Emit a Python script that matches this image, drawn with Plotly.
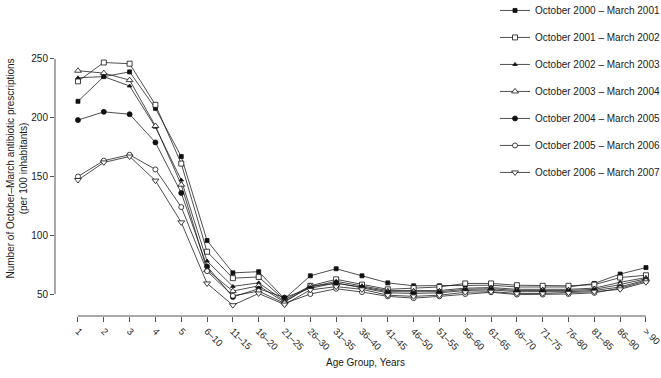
import plotly.graph_objects as go

categories = ["1", "2", "3", "4", "5", "6–10", "11–15", "16–20", "21–25", "26–30",
              "31–35", "36–40", "41–45", "46–50", "51–55", "56–60", "61–65", "66–70",
              "71–75", "76–80", "81–85", "86–90", "> 90"]

series_names = ["October 2000 – March 2001", "October 2001 – March 2002",
                "October 2002 – March 2003", "October 2003 – March 2004",
                "October 2004 – March 2005", "October 2005 – March 2006",
                "October 2006 – March 2007"]

s2000 = [214, 235, 239, 208, 167, 95.5, 68, 69, 46, 65.5, 71.5, 65.5, 59.5, 57, 57, 57.5, 57.5, 56, 56, 56, 59, 67, 72.5]
s2001 = [231, 247, 246, 211, 161, 86, 63.5, 64.5, 45, 57, 62.5, 58, 54, 55, 56, 59, 59, 57.5, 57, 57, 58, 64, 66]
s2002 = [234, 235, 227, 192, 147, 78, 56.5, 59.5, 44, 55.8, 60.8, 57, 53, 53, 53, 55, 55.5, 54, 54, 54, 55, 60, 64]
s2003 = [240, 238, 232, 193, 143, 70.5, 52.5, 57, 43, 56.8, 59, 56, 52, 52, 52, 54, 54.5, 53, 53, 53, 54, 58, 63]
s2004 = [198, 205, 203, 179, 136, 73.5, 47.5, 54.5, 47, 54.9, 59.5, 55.5, 51, 50.5, 51, 53, 53.5, 52, 52, 52, 53, 56, 62]
s2005 = [150, 163.5, 168.5, 156, 124, 69.5, 48.5, 52.5, 42, 50, 54.5, 51.7, 48, 46.5, 48, 50, 51.5, 49.5, 49.5, 50, 51, 55, 61]
s2006 = [147, 162, 167, 146.5, 111, 59, 40.5, 50.5, 41, 53.5, 56.3, 54, 49, 48, 49, 51.5, 52, 50.5, 50.5, 51, 52, 54, 60]

series_values = [s2000, s2001, s2002, s2003, s2004, s2005, s2006]
symbols = ["square", "square", "triangle-up", "triangle-up", "circle", "circle", "triangle-down"]
fills = ["#111", "white", "#111", "white", "#111", "white", "white"]
sizes = [4, 5, 4, 6, 5, 5, 6]

y_ticks = [50, 100, 150, 200, 250]

FONT = "Liberation Sans, Arial, Helvetica, sans-serif"
AX = "#555"
TXT = "#1a1a1a"

fig = go.Figure()
for name, vals, sym, fc, sz in zip(series_names, series_values, symbols, fills, sizes):
    fig.add_trace(go.Scatter(
        x=categories, y=vals, name=name, mode="lines+markers",
        legendgroup=name,
        line=dict(color="#222", width=0.8),
        marker=dict(symbol=sym, size=sz, color=fc, line=dict(color="#111", width=0.8)),
    ))

# detached R-style axis lines spanning the tick range
fig.add_shape(type="line", xref="x", yref="paper", x0=0, x1=len(categories) - 1, y0=0, y1=0,
              line=dict(color=AX, width=1))
fig.add_shape(type="line", xref="paper", yref="y", x0=0, x1=0, y0=y_ticks[0], y1=y_ticks[-1],
              line=dict(color=AX, width=1))

fig.add_annotation(text="Number of October–March antibiotic prescriptions<br>(per 100 inhabitants)",
                   xref="paper", yref="paper", x=-0.063, y=0.545, xanchor="center", yanchor="middle",
                   showarrow=False, textangle=-90, font=dict(size=10, color=TXT, family=FONT))
fig.add_annotation(text="Age Group, Years", xref="paper", yref="paper", x=0.517, y=-0.173,
                   xanchor="center", yanchor="middle", showarrow=False,
                   font=dict(size=10, color=TXT, family=FONT))

fig.update_layout(
    width=661, height=378,
    margin=dict(l=55, r=6, t=45, b=62, autoexpand=False),
    paper_bgcolor="white", plot_bgcolor="white",
    font=dict(family=FONT, size=10, color=TXT),
    showlegend=True,
    legend=dict(x=1.0167, y=1.181, xanchor="right", yanchor="top",
                font=dict(size=10, family=FONT, color=TXT),
                tracegroupgap=8, bgcolor="rgba(0,0,0,0)", itemwidth=30),
    xaxis=dict(type="category", categoryorder="array", categoryarray=categories,
               range=[-0.89, 22.35], showgrid=False, zeroline=False, showline=False,
               ticks="outside", ticklen=5, tickcolor=AX, tickangle=45,
               tickfont=dict(size=9.5, family=FONT, color=TXT)),
    yaxis=dict(range=[31.3, 261.9], tickvals=y_ticks, showgrid=False, zeroline=False,
               showline=False, ticks="outside", ticklen=4, tickcolor=AX,
               tickfont=dict(size=10, family=FONT, color=TXT)),
)

fig.write_html("out.html", config={"displayModeBar": False},
               post_script="document.body.style.margin='0px';")
